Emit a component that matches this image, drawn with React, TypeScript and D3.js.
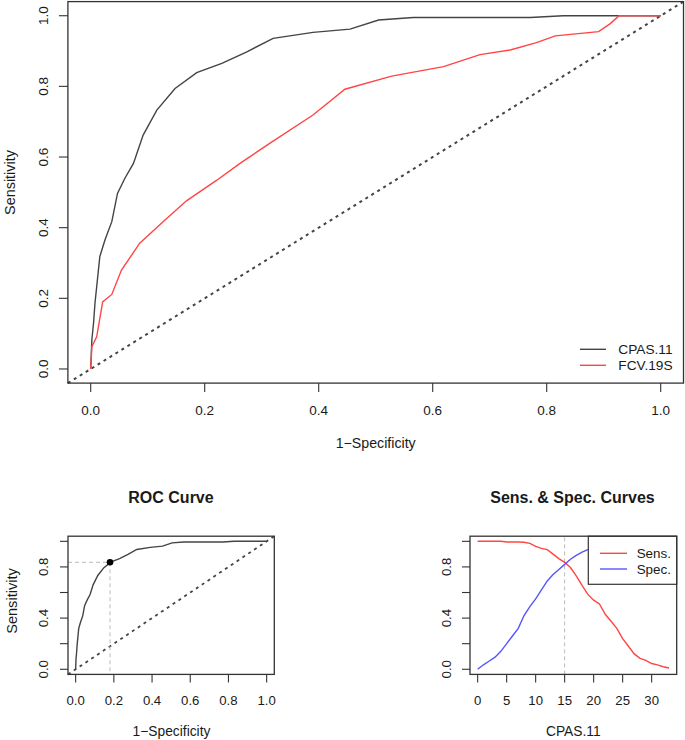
import React from "react";
import * as d3 from "d3";

// CPAS.11 ROC curve (1-specificity, sensitivity)
const cpasFpr = [0, 0.002, 0.005, 0.0075, 0.016, 0.025, 0.037, 0.047, 0.06, 0.075, 0.092, 0.116, 0.148, 0.186, 0.23, 0.274, 0.32, 0.39, 0.455, 0.505, 0.566, 0.771, 0.829, 1];
const cpasTpr = [0, 0.082, 0.13, 0.186, 0.318, 0.365, 0.417, 0.497, 0.54, 0.582, 0.662, 0.733, 0.794, 0.839, 0.865, 0.898, 0.936, 0.953, 0.962, 0.988, 0.995, 0.995, 1, 1];
// FCV.19S ROC curve
const fcvFpr = [0, 0.002, 0.0105, 0.021, 0.037, 0.054, 0.086, 0.127, 0.168, 0.22, 0.262, 0.318, 0.39, 0.446, 0.528, 0.619, 0.683, 0.736, 0.782, 0.815, 0.891, 0.911, 0.927, 1];
const fcvTpr = [0, 0.063, 0.091, 0.19, 0.211, 0.28, 0.356, 0.417, 0.476, 0.533, 0.582, 0.643, 0.719, 0.792, 0.829, 0.856, 0.89, 0.903, 0.924, 0.943, 0.955, 0.977, 1, 1];

// Sens & Spec curves vs CPAS.11 cut-off
const cutoffs = d3.range(0, 34);
const sensValues = [1, 1, 1, 1, 1, 0.995, 0.995, 0.995, 0.993, 0.984, 0.96, 0.945, 0.935, 0.9, 0.865, 0.836, 0.795, 0.73, 0.655, 0.585, 0.54, 0.51, 0.43, 0.375, 0.32, 0.24, 0.18, 0.12, 0.085, 0.07, 0.045, 0.035, 0.02, 0.01];
const specValues = [0, 0.035, 0.065, 0.095, 0.14, 0.2, 0.26, 0.32, 0.42, 0.49, 0.55, 0.62, 0.69, 0.74, 0.78, 0.82, 0.86, 0.89, 0.915, 0.935, 0.95, 0.965, 0.975, 0.985, 0.99, 0.995, 1, 1, 1, 1, 1, 1, 1, 1];

const bestCutoff = 15;
const bestFpr = 0.18;
const bestSens = 0.836;

const probTicks = [0, 0.2, 0.4, 0.6, 0.8, 1.0];
const smallYLabels = [0, 0.4, 0.8];
const cutoffTicks = [0, 5, 10, 15, 20, 25, 30];

const legendMain = ["CPAS.11", "FCV.19S"];
const legendSS = ["Sens.", "Spec."];

const FONT = "'Liberation Sans', Arial, Helvetica, sans-serif";
const TXT = "#1a1a1a";
const BOX = "#333";
const C_BLACK = "#444";
const C_RED = "#ff4545";
const C_BLUE = "#5555ff";

function zip(xs: number[], ys: number[]): [number, number][] {
  return xs.map((x, i) => [x, ys[i]]);
}

export default function App() {
  // main plot scales
  const xM = d3.scaleLinear().domain([-0.04, 1.04]).range([67.9, 683.5]);
  const yM = d3.scaleLinear().domain([-0.04, 1.04]).range([383.1, 1.6]);
  // bottom-left
  const xL = d3.scaleLinear().domain([-0.04, 1.04]).range([68, 274.3]);
  const yL = d3.scaleLinear().domain([-0.04, 1.04]).range([674.4, 536.2]);
  // bottom-right
  const xR = d3.scaleLinear().domain([-1.32, 34.32]).range([470, 676.7]);
  const yR = yL;

  const lineM = d3.line<[number, number]>().x(d => xM(d[0])).y(d => yM(d[1]));
  const lineL = d3.line<[number, number]>().x(d => xL(d[0])).y(d => yL(d[1]));
  const lineR = d3.line<[number, number]>().x(d => xR(d[0])).y(d => yR(d[1]));

  const fmt = d3.format(".1f");

  const yAxis = (y: d3.ScaleLinear<number, number>, x0: number, labelX: number, ticks: number[], labels: number[], len: number, fs: number) => (
    <g>
      {ticks.map(t => (
        <line key={"t" + t} x1={x0 - len} x2={x0} y1={y(t)} y2={y(t)} stroke={BOX} strokeWidth={1.1} />
      ))}
      {labels.map(t => (
        <text key={"l" + t} transform={`translate(${labelX},${y(t)}) rotate(-90)`} textAnchor="middle" dominantBaseline="central" fontSize={fs} fill={TXT}>{fmt(t)}</text>
      ))}
    </g>
  );

  const xAxis = (x: d3.ScaleLinear<number, number>, y0: number, labelY: number, ticks: number[], f: (v: number) => string, len: number, fs: number) => (
    <g>
      {ticks.map(t => (
        <g key={t}>
          <line x1={x(t)} x2={x(t)} y1={y0} y2={y0 + len} stroke={BOX} strokeWidth={1.1} />
          <text x={x(t)} y={labelY} textAnchor="middle" dominantBaseline="central" fontSize={fs} fill={TXT}>{f(t)}</text>
        </g>
      ))}
    </g>
  );

  return (
    <svg width={685} height={740} style={{ position: "absolute", left: 0, top: 0, background: "#fff" }} fontFamily={FONT}>
      {/* ===== Main ROC plot ===== */}
      <line x1={xM(-0.04)} y1={yM(-0.04)} x2={xM(1.04)} y2={yM(1.04)} stroke="#444" strokeWidth={2} strokeDasharray="3,4" />
      <path d={lineM(zip(cpasFpr, cpasTpr)) || ""} fill="none" stroke={C_BLACK} strokeWidth={1.4} />
      <path d={lineM(zip(fcvFpr, fcvTpr)) || ""} fill="none" stroke={C_RED} strokeWidth={1.4} />
      <rect x={67.9} y={1.6} width={683.5 - 67.9} height={383.1 - 1.6} fill="none" stroke={BOX} strokeWidth={1.3} />
      {yAxis(yM, 67.9, 43.3, probTicks, probTicks, 9, 13.5)}
      {xAxis(xM, 383.1, 410.5, probTicks, fmt, 9, 13.5)}
      <text x={375.7} y={443} textAnchor="middle" dominantBaseline="central" fontSize={14.2} fill={TXT}>1−Specificity</text>
      <text transform="translate(10,182.5) rotate(-90)" textAnchor="middle" dominantBaseline="central" fontSize={14.4} fill={TXT}>Sensitivity</text>
      {legendMain.map((name, i) => (
        <g key={name}>
          <line x1={580} x2={606} y1={349.3 + i * 16} y2={349.3 + i * 16} stroke={i === 0 ? C_BLACK : C_RED} strokeWidth={1.4} />
          <text x={618.3} y={349.3 + i * 16} dominantBaseline="central" fontSize={13.7} fill={TXT}>{name}</text>
        </g>
      ))}

      {/* ===== Bottom-left ROC Curve ===== */}
      <text x={171} y={497} textAnchor="middle" dominantBaseline="central" fontSize={16} fontWeight="bold" fill={TXT}>ROC Curve</text>
      <line x1={xL(-0.04)} y1={yL(-0.04)} x2={xL(1.04)} y2={yL(1.04)} stroke="#444" strokeWidth={1.8} strokeDasharray="3,4" />
      <line x1={xL(-0.04)} x2={xL(bestFpr)} y1={yL(bestSens)} y2={yL(bestSens)} stroke="#bbb" strokeWidth={1} strokeDasharray="4,3" />
      <line x1={xL(bestFpr)} x2={xL(bestFpr)} y1={yL(bestSens)} y2={yL(-0.04)} stroke="#bbb" strokeWidth={1} strokeDasharray="4,3" />
      <path d={lineL(zip(cpasFpr, cpasTpr)) || ""} fill="none" stroke={C_BLACK} strokeWidth={1.4} />
      <circle cx={xL(bestFpr)} cy={yL(bestSens)} r={3.3} fill="#000" />
      <rect x={68} y={536.2} width={274.3 - 68} height={674.4 - 536.2} fill="none" stroke={BOX} strokeWidth={1.3} />
      {yAxis(yL, 68, 43.3, probTicks, smallYLabels, 8, 13.2)}
      {xAxis(xL, 674.4, 700, probTicks, fmt, 8, 13.2)}
      <text x={171.5} y={731.7} textAnchor="middle" dominantBaseline="central" fontSize={13.8} fill={TXT}>1−Specificity</text>
      <text transform="translate(12,601) rotate(-90)" textAnchor="middle" dominantBaseline="central" fontSize={14.6} fill={TXT}>Sensitivity</text>

      {/* ===== Bottom-right Sens & Spec ===== */}
      <text x={572.5} y={497} textAnchor="middle" dominantBaseline="central" fontSize={16} fontWeight="bold" fill={TXT}>Sens. &amp; Spec. Curves</text>
      <line x1={xR(bestCutoff)} x2={xR(bestCutoff)} y1={yR(-0.04)} y2={yR(1.04)} stroke="#bbb" strokeWidth={1} strokeDasharray="4,3" />
      <path d={lineR(zip(cutoffs, sensValues)) || ""} fill="none" stroke={C_RED} strokeWidth={1.4} />
      <path d={lineR(zip(cutoffs, specValues)) || ""} fill="none" stroke={C_BLUE} strokeWidth={1.4} />
      <rect x={588.3} y={536.2} width={676.7 - 588.3} height={584.3 - 536.2} fill="#fff" stroke={BOX} strokeWidth={1.2} />
      {legendSS.map((name, i) => (
        <g key={name}>
          <line x1={600} x2={627} y1={553.3 + i * 15.7} y2={553.3 + i * 15.7} stroke={i === 0 ? C_RED : C_BLUE} strokeWidth={1.4} />
          <text x={636.7} y={553.3 + i * 15.7} dominantBaseline="central" fontSize={13.4} fill={TXT}>{name}</text>
        </g>
      ))}
      <rect x={470} y={536.2} width={676.7 - 470} height={674.4 - 536.2} fill="none" stroke={BOX} strokeWidth={1.3} />
      {yAxis(yR, 470, 446.7, probTicks, smallYLabels, 8, 13.2)}
      {xAxis(xR, 674.4, 700, cutoffTicks, v => String(v), 8, 13.2)}
      <text x={573.3} y={731.7} textAnchor="middle" dominantBaseline="central" fontSize={13.8} fill={TXT}>CPAS.11</text>
    </svg>
  );
}
